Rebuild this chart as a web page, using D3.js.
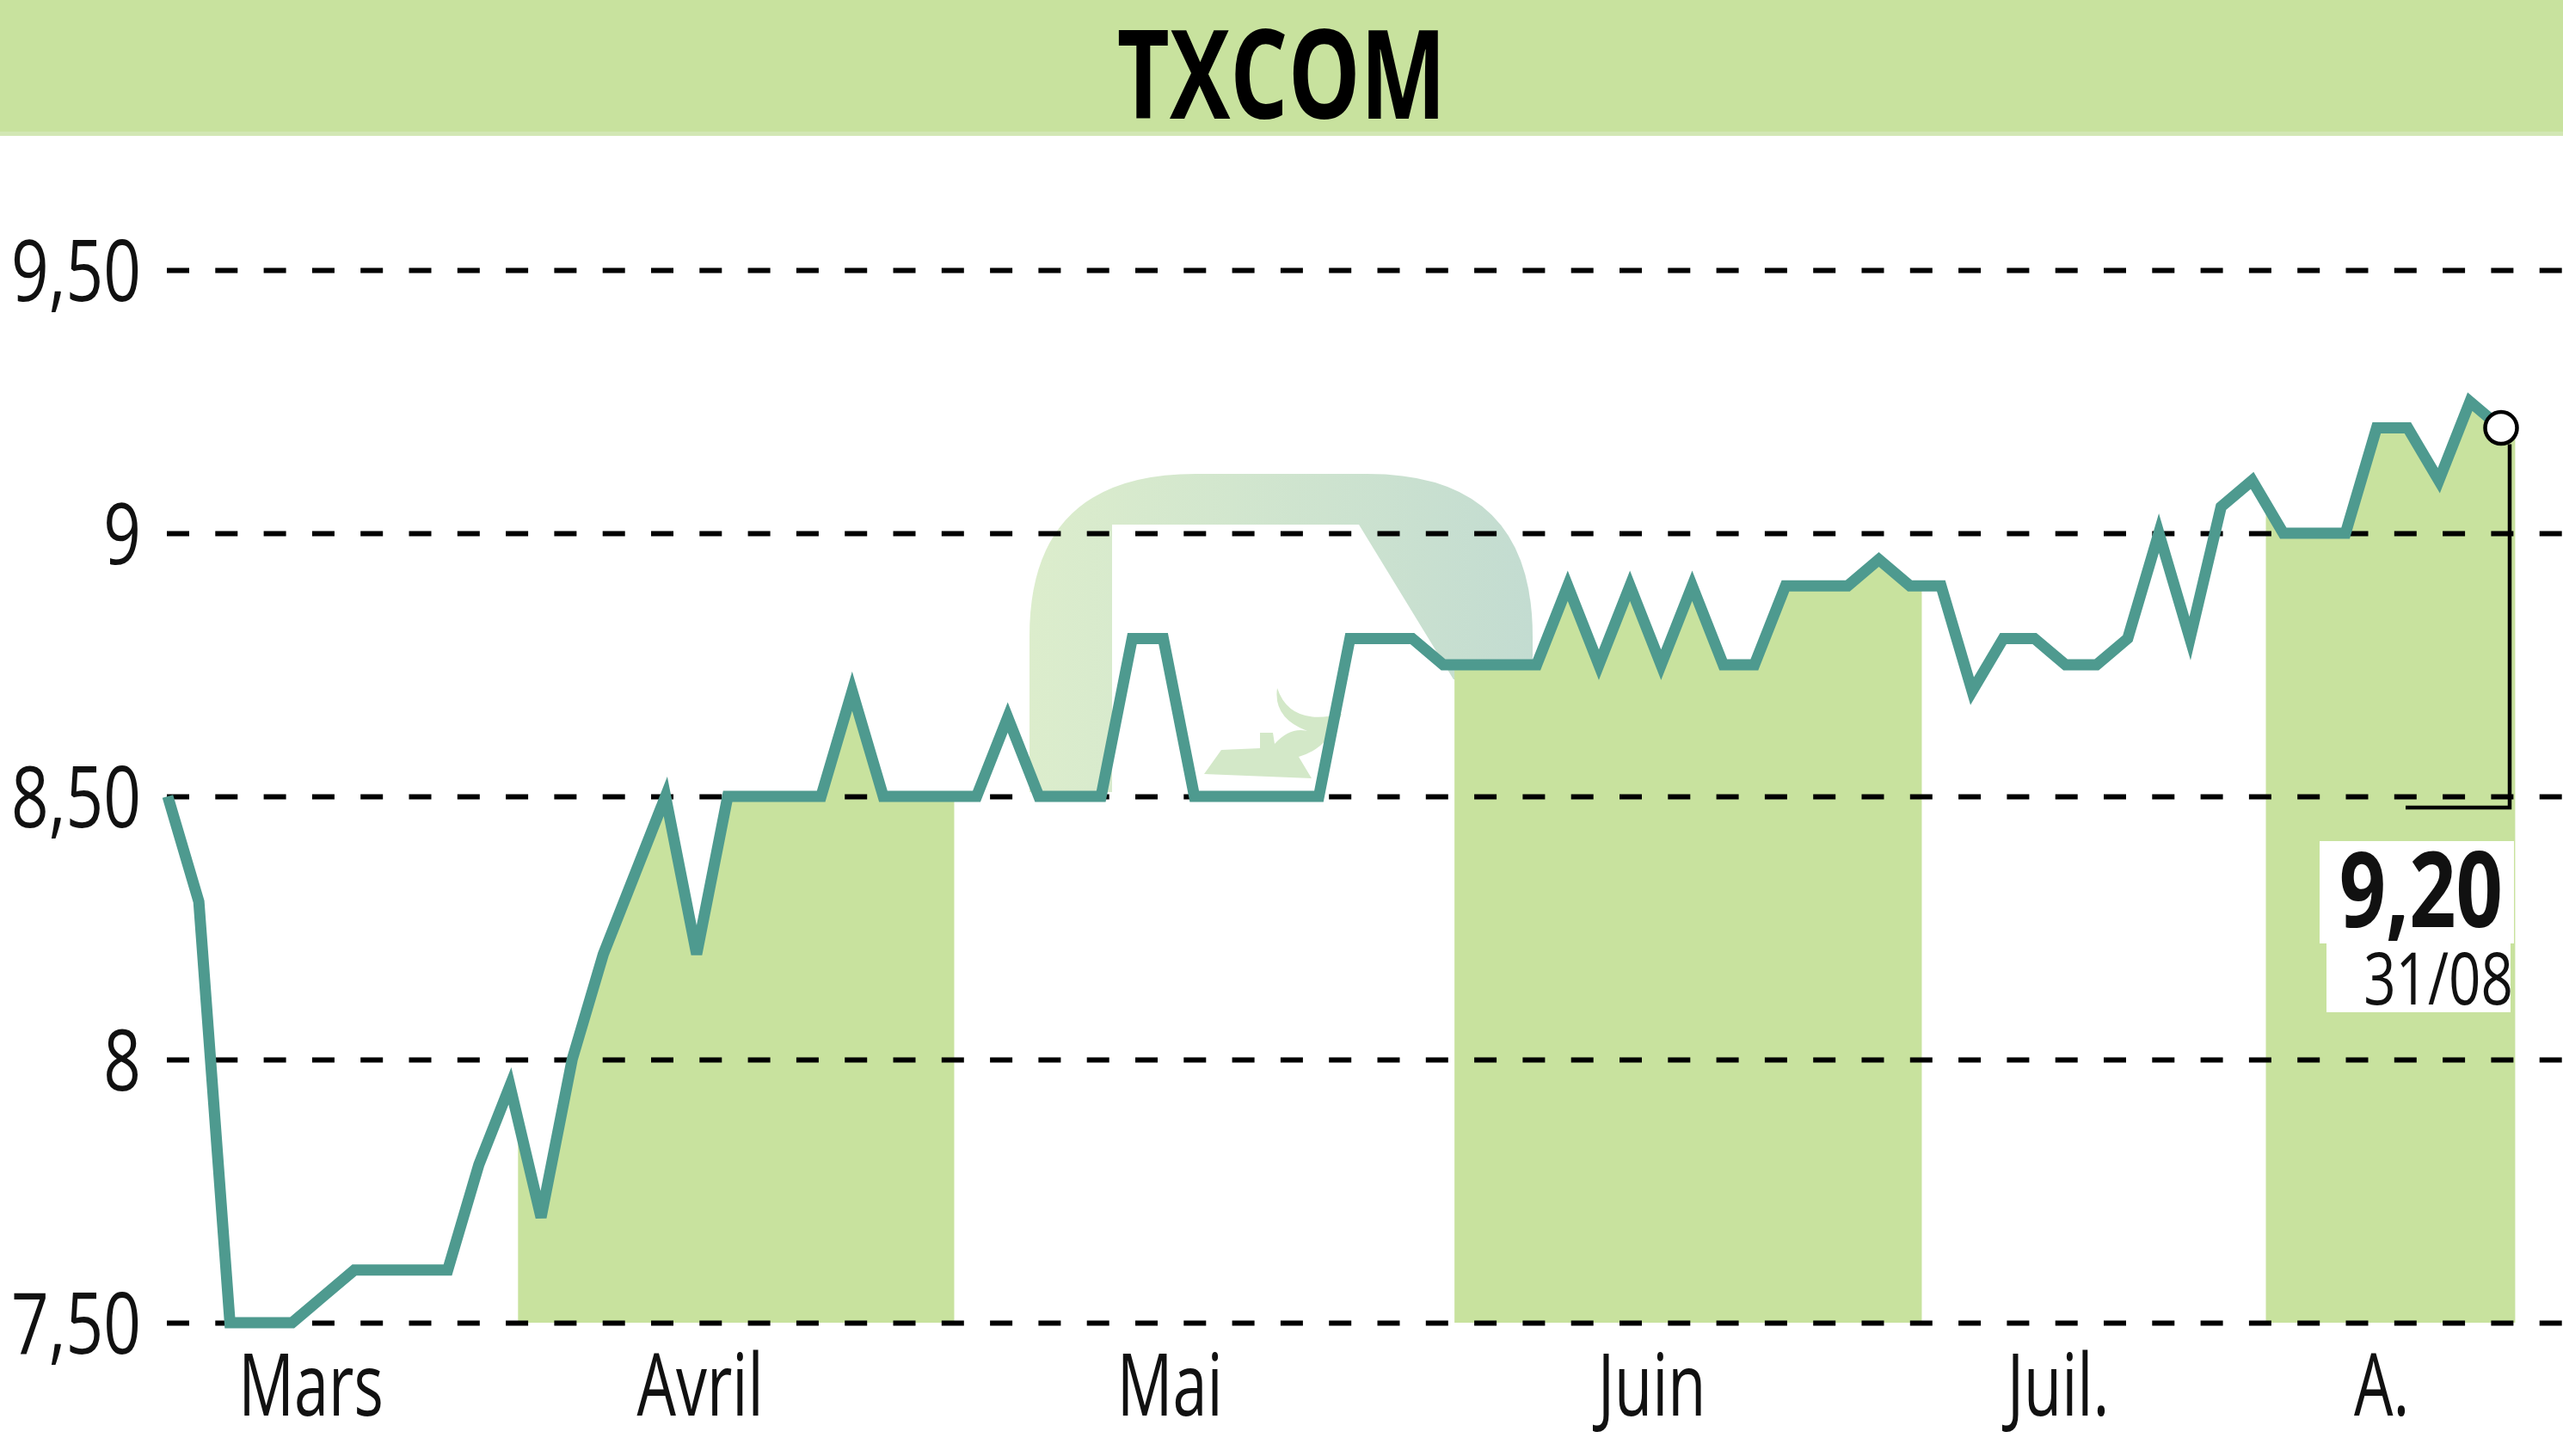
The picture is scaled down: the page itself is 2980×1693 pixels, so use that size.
<!DOCTYPE html>
<html>
<head>
<meta charset="utf-8">
<script src="https://cdn.jsdelivr.net/npm/d3@7"></script>
<style>
  html, body { margin: 0; padding: 0; background: #ffffff; }
  svg { display: block; }
  text { font-family: "Open Sans", "DejaVu Sans", sans-serif; }
</style>
</head>
<body>
<svg id="chart" width="2980" height="1693"></svg>
<script>
// ---------------- DATA ----------------
const title = "TXCOM";
const months = ["Mars", "Avril", "Mai", "Juin", "Juil.", "A."];
// label centre positions, in data-index units
const monthLabelPos = [4.59, 17.10, 32.20, 47.69, 60.75, 71.15];
// month boundaries, in data-index units (Mars starts at 0)
const monthBounds = [0, 11.26, 25.28, 41.36, 56.38, 67.44, 75.46];
const shadedMonths = [1, 3, 5];
const prices = [
  8.50, 8.30, 7.50, 7.50, 7.50, 7.55, 7.60, 7.60, 7.60, 7.60,
  7.80, 7.95, 7.70, 8.00, 8.20, 8.35, 8.50, 8.20, 8.50, 8.50,
  8.50, 8.50, 8.70, 8.50, 8.50, 8.50, 8.50, 8.65, 8.50, 8.50,
  8.50, 8.80, 8.80, 8.50, 8.50, 8.50, 8.50, 8.50, 8.80, 8.80,
  8.80, 8.75, 8.75, 8.75, 8.75, 8.90, 8.75, 8.90, 8.75, 8.90,
  8.75, 8.75, 8.90, 8.90, 8.90, 8.95, 8.90, 8.90, 8.70, 8.80,
  8.80, 8.75, 8.75, 8.80, 9.00, 8.80, 9.05, 9.10, 9.00, 9.00,
  9.00, 9.20, 9.20, 9.10, 9.25, 9.20
];
const yTicks = [7.5, 8, 8.5, 9, 9.5];
const yTickLabels = ["7,50", "8", "8,50", "9", "9,50"];
const lastValueLabel = "9,20";
const lastDateLabel = "31/08";

// ---------------- STYLE ----------------
const W = 2980, H = 1693;
const green = "#c8e29e";
const lineColor = "#4e9a8f";

const svg = d3.select("#chart");

const x = d3.scaleLinear().domain([0, prices.length - 1]).range([195, 2908]);
const y = d3.scaleLinear().domain([7.5, 9.5]).range([1538, 314]);

// header band
svg.append("rect").attr("x", 0).attr("y", 0).attr("width", W).attr("height", 153).attr("fill", green);
svg.append("rect").attr("x", 0).attr("y", 153).attr("width", W).attr("height", 5).attr("fill", "#d2e7b4");
svg.append("text")
  .attr("transform", `translate(${W / 2},138) scale(0.88,1.2)`)
  .attr("text-anchor", "middle")
  .attr("font-family", "'Liberation Sans', Arial, sans-serif")
  .attr("font-size", 120)
  .attr("font-weight", 700)
  .attr("fill", "#000")
  .text(title);

// faint watermark logo (decoration)
const defs = svg.append("defs");
const grad = defs.append("linearGradient").attr("id", "wm").attr("x1", "0").attr("x2", "1").attr("y1", "0").attr("y2", "0");
grad.append("stop").attr("offset", "0").attr("stop-color", "#dcedcc");
grad.append("stop").attr("offset", "1").attr("stop-color", "#c3dcd1");
svg.append("path")
  .attr("d", "M1197,921 L1197,740 Q1197,551 1390,551 L1590,551 Q1782,551 1782,740 L1782,790 L1690,790 L1580,610 L1293,610 L1293,921 Z")
  .attr("fill", "url(#wm)");
svg.append("path")
  .attr("d", "M1400,900 L1420,872 L1465,870 L1465,852 L1480,852 L1482,865 Q1500,845 1520,850 Q1480,835 1485,800 Q1500,845 1560,830 Q1545,870 1510,880 L1525,905 Z")
  .attr("fill", "#d3e8c8");

// shaded month areas under the line
const areaData = prices.map((v, i) => ({ i, v }));
areaData.push({ i: monthBounds[monthBounds.length - 1], v: prices[prices.length - 1] });
const area = d3.area().x(d => x(d.i)).y0(y(7.5)).y1(d => y(d.v)).curve(d3.curveLinear);
shadedMonths.forEach((m, k) => {
  const id = "clip" + k;
  defs.append("clipPath").attr("id", id)
    .append("rect")
    .attr("x", x(monthBounds[m]))
    .attr("y", 0)
    .attr("width", x(monthBounds[m + 1]) - x(monthBounds[m]))
    .attr("height", y(7.5) + 2);
  svg.append("path").datum(areaData)
    .attr("d", area)
    .attr("fill", green)
    .attr("clip-path", `url(#${id})`);
});

// y axis with dashed grid lines
const yAxis = d3.axisLeft(y)
  .tickValues(yTicks)
  .tickFormat((d, i) => yTickLabels[i])
  .tickSize(-(W - 194))
  .tickPadding(30);
const gy = svg.append("g").attr("transform", "translate(194,0)").call(yAxis);
gy.select(".domain").remove();
gy.selectAll(".tick line")
  .attr("stroke", "#000")
  .attr("stroke-width", 6)
  .attr("stroke-dasharray", "26,30.3");
gy.selectAll(".tick text")
  .attr("x", null)
  .attr("dy", "0.36em")
  .attr("transform", "translate(-30,0) scale(0.78,1)")
  .attr("font-size", 98)
  .attr("font-family", "'Open Sans', sans-serif")
  .attr("fill", "#111");

// x axis month labels
const xAxis = d3.axisBottom(x)
  .tickValues(monthLabelPos)
  .tickFormat((d, i) => months[i])
  .tickSize(0)
  .tickPadding(37);
const gx = svg.append("g").attr("transform", `translate(0,${y(7.5)})`).call(xAxis);
gx.select(".domain").remove();
gx.selectAll(".tick text")
  .attr("font-size", 100)
  .attr("font-family", "'Open Sans', sans-serif")
  .attr("fill", "#111")
  .attr("transform", "scale(0.72,1)");

// price line
const line = d3.line().x((d, i) => x(i)).y(d => y(d)).curve(d3.curveLinear);
svg.append("path").datum(prices)
  .attr("d", line)
  .attr("fill", "none")
  .attr("stroke", lineColor)
  .attr("stroke-width", 13)
  .attr("stroke-linejoin", "miter");

// last value annotation
const lx = x(prices.length - 1), ly = y(prices[prices.length - 1]);
svg.append("path")
  .attr("d", `M${lx + 10},${ly + 19} V${y(8.5) + 13} H${lx - 111}`)
  .attr("fill", "none")
  .attr("stroke", "#000")
  .attr("stroke-width", 4.5);
svg.append("circle")
  .attr("cx", lx).attr("cy", ly).attr("r", 18.5)
  .attr("fill", "#fff").attr("stroke", "#000").attr("stroke-width", 4.5);

svg.append("rect").attr("x", lx - 211).attr("y", 978).attr("width", 226).attr("height", 119).attr("fill", "#fff");
svg.append("rect").attr("x", lx - 203).attr("y", 1096).attr("width", 214).attr("height", 81).attr("fill", "#fff");
const lbl = svg.append("text")
  .attr("text-anchor", "end")
  .attr("fill", "#111")
  .attr("transform", `translate(${lx + 2},1078) scale(0.78,1)`);
lbl.append("tspan")
  .attr("x", 0).attr("y", 0)
  .attr("font-size", 122)
  .attr("font-weight", 700)
  .text(lastValueLabel);
lbl.append("tspan")
  .attr("x", 12 / 0.78).attr("dy", 90)
  .attr("font-size", 84)
  .attr("font-weight", 400)
  .text(lastDateLabel);
</script>
</body>
</html>
